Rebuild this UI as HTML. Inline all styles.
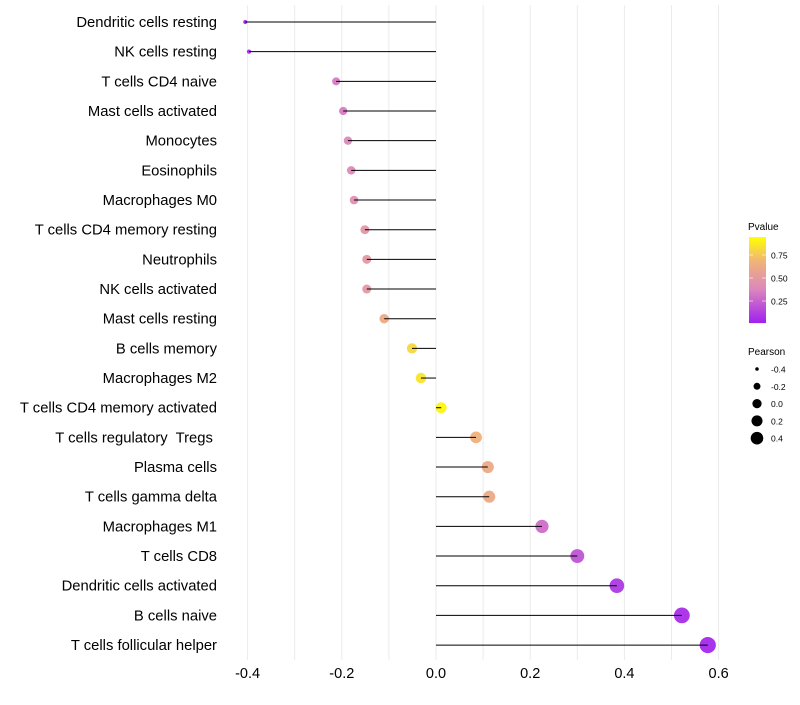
<!DOCTYPE html>
<html><head><meta charset="utf-8"><style>
body{margin:0;background:#fff;font-family:"Liberation Sans",sans-serif}
text{white-space:pre}
</style></head><body>
<svg id="c" width="800" height="700" xmlns="http://www.w3.org/2000/svg"></svg>
<script>
const categories=["Dendritic cells resting","NK cells resting","T cells CD4 naive","Mast cells activated","Monocytes","Eosinophils","Macrophages M0","T cells CD4 memory resting","Neutrophils","NK cells activated","Mast cells resting","B cells memory","Macrophages M2","T cells CD4 memory activated","T cells regulatory  Tregs ","Plasma cells","T cells gamma delta","Macrophages M1","T cells CD8","Dendritic cells activated","B cells naive","T cells follicular helper"];
const pearson=[-0.405,-0.397,-0.212,-0.197,-0.187,-0.18,-0.174,-0.151,-0.147,-0.147,-0.11,-0.051,-0.032,0.011,0.085,0.11,0.113,0.225,0.30,0.384,0.522,0.577];
const pvalue=[0.02,0.03,0.35,0.35,0.4,0.42,0.45,0.5,0.52,0.52,0.65,0.85,0.9,0.96,0.7,0.65,0.65,0.3,0.2,0.1,0.05,0.03];
const xTicks=[-0.4,-0.2,0.0,0.2,0.4,0.6];
const xTickLabels=["-0.4","-0.2","0.0","0.2","0.4","0.6"];
const legendP=[0.75,0.50,0.25];
const legendPLabels=["0.75","0.50","0.25"];
const legendR=[-0.4,-0.2,0.0,0.2,0.4];
const legendRLabels=["-0.4","-0.2","0.0","0.2","0.4"];

const NS="http://www.w3.org/2000/svg",svg=document.getElementById('c');
const x=v=>436+v*471;
const y=i=>22+i*29.67;
const rad=v=>Math.sqrt(Math.max(1,4+(v+0.405)*63));
const stops=[[0,[160,32,240]],[0.4,[221,136,187]],[0.72,[240,180,120]],[1,[255,255,0]]];
function col(p){p=Math.max(0,Math.min(1,p));for(let k=1;k<stops.length;k++){if(p<=stops[k][0]){const a=stops[k-1],b=stops[k],t=(p-a[0])/(b[0]-a[0]);return 'rgb('+a[1].map((c,j)=>Math.round(c+(b[1][j]-c)*t)).join(',')+')';}}}
function el(t,a,txt){const e=document.createElementNS(NS,t);for(const k in a)e.setAttribute(k,a[k]);if(txt!=null)e.textContent=txt;svg.appendChild(e);return e;}

for(let v=-0.4;v<=0.61;v+=0.1){const g=el('line',{x1:x(v),x2:x(v),y1:5,y2:660,stroke:'#ebebeb','stroke-width':1});

}
xTicks.forEach((t,i)=>{const e=el('text',{x:x(t),y:678,'font-size':14.5,'text-anchor':'middle',fill:'#000'},xTickLabels[i]);

});
categories.forEach((c,i)=>{
const l=el('text',{x:217,y:y(i)+5,'font-size':14.8,'text-anchor':'end',fill:'#000'},c);


const d=el('circle',{cx:x(pearson[i]),cy:y(i),r:rad(pearson[i]),fill:col(pvalue[i]),'fill-opacity':0.95});


const s=el('line',{x1:x(0),x2:x(pearson[i]),y1:y(i),y2:y(i),stroke:'#000','stroke-width':1});


});
const t1=el('text',{x:748,y:230,'font-size':10},'Pvalue');


const defs=el('defs',{});const lg=document.createElementNS(NS,'linearGradient');lg.setAttribute('id','gr');lg.setAttribute('x1',0);lg.setAttribute('y1',1);lg.setAttribute('x2',0);lg.setAttribute('y2',0);defs.appendChild(lg);
stops.forEach(s=>{const st=document.createElementNS(NS,'stop');st.setAttribute('offset',s[0]);st.setAttribute('stop-color','rgb('+s[1].join(',')+')');lg.appendChild(st);});
const pY=p=>278-(p-0.5)*92;
const bar=el('rect',{x:749,y:pY(0.945),width:17,height:pY(0.01)-pY(0.945),fill:'url(#gr)'});


legendP.forEach((p,i)=>{el('line',{x1:749,x2:753,y1:pY(p),y2:pY(p),stroke:'#fff','stroke-opacity':0.6});el('line',{x1:762,x2:766,y1:pY(p),y2:pY(p),stroke:'#fff','stroke-opacity':0.6});
const e=el('text',{x:771,y:pY(p)+3.5,'font-size':8.5},legendPLabels[i]);

});
const t2=el('text',{x:748,y:355,'font-size':10},'Pearson');


legendR.forEach((v,i)=>{const cy=369+i*17.3;
const c=el('circle',{cx:757,cy:cy,r:rad(v)*0.85,fill:'#000'});


const e=el('text',{x:771,y:cy+3.5,'font-size':8.5},legendRLabels[i]);

});
</script>
</body></html>
